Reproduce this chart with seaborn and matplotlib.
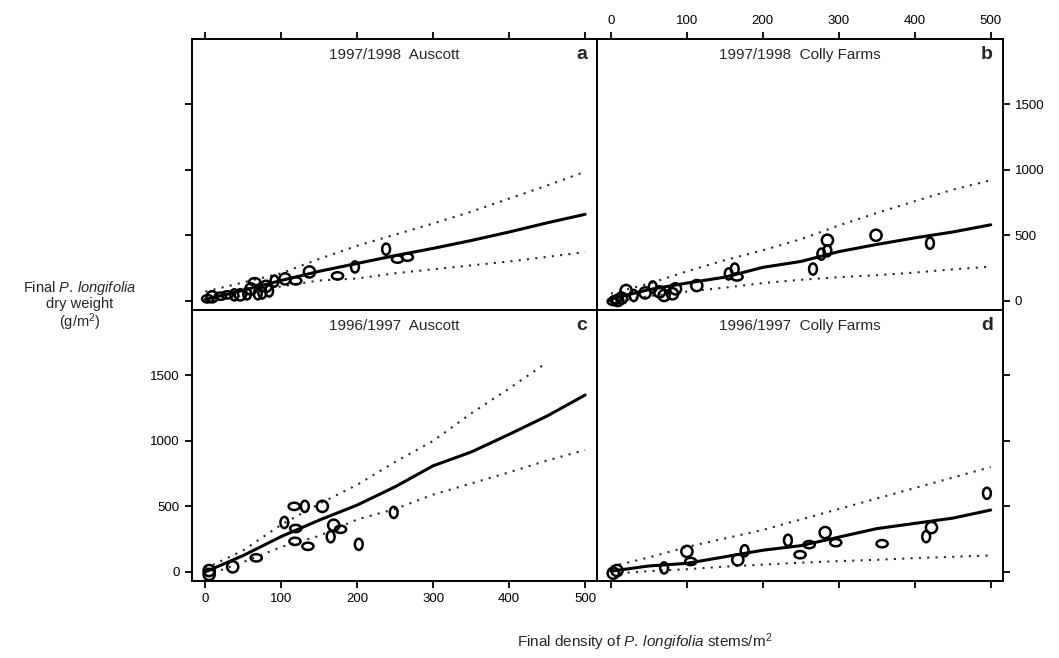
import matplotlib
matplotlib.use("Agg")
import pandas as pd
import matplotlib.pyplot as plt
import seaborn as sns
from matplotlib.path import Path
from matplotlib.transforms import Affine2D

# =========================
# Data
# =========================
panel_titles = ["1997/1998  Auscott", "1997/1998  Colly Farms",
                "1996/1997  Auscott", "1996/1997  Colly Farms"]
panel_letters = ["a", "b", "c", "d"]

x_ticks = [0, 100, 200, 300, 400, 500]
y_ticks = [0, 500, 1000, 1500]

# observed points (density, dry weight) and ellipse shape
a_x = [3, 9, 20, 29, 38, 46, 55, 60, 65, 69, 75, 80, 84, 91, 105, 119, 137, 174, 197, 238, 253, 266]
a_y = [15, 30, 35, 45, 45, 45, 53, 90, 145, 53, 60, 110, 75, 150, 167, 152, 220, 190, 258, 394, 318, 333]
a_shape = ["wide", "round", "wide", "wide", "tall", "round", "tall", "round", "wide", "tall", "tall",
           "round", "tall", "tall", "round", "wide", "round", "wide", "tall", "tall", "wide", "wide"]

b_x = [3, 6, 9, 14, 20, 30, 45, 55, 64, 70, 81, 85, 113, 155, 163, 166, 266, 277, 285, 285, 349, 420]
b_y = [-5, 10, 2, 20, 78, 40, 60, 105, 68, 40, 53, 91, 116, 205, 242, 182, 242, 356, 381, 462, 500, 439]
b_shape = ["wide", "wide", "round", "round", "round", "tall", "round", "tall", "round", "round", "round",
           "round", "round", "tall", "tall", "wide", "tall", "tall", "tall", "round", "round", "tall"]

c_x = [5, 5, 36, 67, 104, 117, 131, 154, 119, 118, 135, 169, 178, 165, 202, 248]
c_y = [10, -20, 38, 107, 377, 500, 500, 500, 331, 233, 195, 356, 325, 268, 210, 454]
c_shape = ["round", "round", "round", "wide", "tall", "wide", "tall", "round", "wide", "wide", "wide",
           "round", "wide", "tall", "tall", "tall"]

d_x = [3, 8, 70, 100, 105, 167, 176, 233, 249, 261, 282, 296, 357, 415, 422, 495]
d_y = [-10, 10, 30, 156, 79, 92, 161, 241, 131, 208, 300, 223, 215, 269, 338, 600]
d_shape = ["round", "round", "tall", "round", "wide", "round", "tall", "tall", "wide", "wide", "round",
           "wide", "wide", "tall", "round", "tall"]

# fitted curve and confidence bands
fit_x = [0, 50, 100, 150, 200, 250, 300, 350, 400, 450, 500]

a_fit = [10, 80, 155, 225, 285, 345, 400, 460, 525, 595, 660]
a_upper = [70, 140, 210, 320, 420, 505, 590, 680, 780, 880, 985]
a_lower = [-15, 40, 110, 155, 170, 210, 240, 270, 300, 335, 371]

b_fit = [15, 85, 135, 180, 255, 300, 375, 430, 480, 525, 580]
b_upper = [55, 130, 225, 310, 385, 470, 575, 670, 760, 848, 920]
b_lower = [-15, 35, 70, 100, 135, 160, 180, 195, 215, 240, 260]

c_fit = [0, 125, 270, 395, 510, 650, 810, 915, 1050, 1190, 1350]
c_upper = [25, 165, 360, 520, 665, 840, 1000, 1210, 1400, 1600, 1600]
c_lower = [-30, 75, 190, 275, 400, 480, 590, 675, 760, 850, 930]
c_upper_end = 450

d_fit = [5, 45, 65, 115, 165, 200, 265, 330, 370, 410, 472]
d_upper = [40, 110, 190, 255, 320, 400, 480, 560, 640, 720, 800]
d_lower = [-15, 5, 20, 40, 55, 70, 82, 92, 105, 115, 125]

# =========================
# Style
# =========================
sns.set_style("ticks")
plt.rcParams["font.family"] = ["Liberation Sans", "DejaVu Sans"]
plt.rcParams["mathtext.fontset"] = "custom"
plt.rcParams["mathtext.rm"] = "Liberation Sans"
plt.rcParams["mathtext.it"] = "Liberation Sans:italic"

tall = Path.unit_circle().transformed(Affine2D().scale(0.7, 1.0))
wide = Path.unit_circle().transformed(Affine2D().scale(1.0, 0.65))
marker_map = {"tall": tall, "wide": wide, "round": "o"}

fig, axes = plt.subplots(2, 2, figsize=(10.59, 6.58), dpi=100, sharex=True, sharey=True)
fig.subplots_adjust(left=0.181, right=0.947, bottom=0.117, top=0.941, wspace=0, hspace=0)

panels = [
    (a_x, a_y, a_shape, a_fit, a_upper, a_lower),
    (b_x, b_y, b_shape, b_fit, b_upper, b_lower),
    (c_x, c_y, c_shape, c_fit, c_upper, c_lower),
    (d_x, d_y, d_shape, d_fit, d_upper, d_lower),
]

for i, (ax, (px, py, shp, fit, up, lo)) in enumerate(zip(axes.flat, panels)):
    pts = pd.DataFrame({"x": px, "y": py, "shape": shp})
    sns.scatterplot(data=pts, x="x", y="y", style="shape", markers=marker_map,
                    color="black", facecolors="none", edgecolor="black",
                    linewidth=1.8, s=65, legend=False, ax=ax, zorder=3)

    fx = fit_x
    if i == 2:
        fx_up = [v for v in fit_x if v <= c_upper_end]
        up = up[:len(fx_up)]
    else:
        fx_up = fit_x
    sns.lineplot(x=fx, y=fit, color="black", linewidth=2.2, ax=ax,
                 estimator=None, sort=False)
    sns.lineplot(x=fx_up, y=up, color="0.15", linewidth=1.5, ax=ax,
                 linestyle=(0, (1, 3)), estimator=None, sort=False)
    sns.lineplot(x=fx, y=lo, color="0.15", linewidth=1.5, ax=ax,
                 linestyle=(0, (1, 3)), estimator=None, sort=False)

    ax.set_xlim(-18, 516)
    ax.set_ylim(-70, 2000)
    ax.set_xlabel("")
    ax.set_ylabel("")
    ax.set_xticks(x_ticks)
    ax.set_yticks(y_ticks)
    for sp in ax.spines.values():
        sp.set_linewidth(1.4)
        sp.set_color("black")

    ax.text(0.5, 0.965, panel_titles[i], transform=ax.transAxes,
            ha="center", va="top", fontsize=11)
    ax.text(0.975, 0.975, panel_letters[i], transform=ax.transAxes,
            ha="right", va="top", fontsize=14, fontweight="bold")

tick_kw = dict(direction="out", length=5, width=1.3, labelsize=9.5, colors="black")

ax_a, ax_b, ax_c, ax_d = axes.flat
ax_a.tick_params(axis="x", bottom=False, top=True, labelbottom=False, labeltop=False, **tick_kw)
ax_a.tick_params(axis="y", left=True, right=False, labelleft=False, labelright=False, **tick_kw)
ax_b.tick_params(axis="x", bottom=False, top=True, labelbottom=False, labeltop=True, **tick_kw)
ax_b.tick_params(axis="y", left=False, right=True, labelleft=False, labelright=True, **tick_kw)
ax_c.tick_params(axis="x", bottom=True, top=False, labelbottom=True, labeltop=False, **tick_kw)
ax_c.tick_params(axis="y", left=True, right=False, labelleft=True, labelright=False, **tick_kw)
ax_d.tick_params(axis="x", bottom=True, top=False, labelbottom=False, labeltop=False, **tick_kw)
ax_d.tick_params(axis="y", left=False, right=True, labelleft=False, labelright=False, **tick_kw)

fig.text(80 / 1059, 1 - 306 / 658,
         "Final $\\mathit{P.\\,longifolia}$\ndry weight\n(g/m$^2$)",
         ha="center", va="center", fontsize=10.5, linespacing=1.05)
fig.text(645 / 1059, 1 - 642 / 658,
         "Final density of $\\mathit{P.\\,longifolia}$ stems/m$^2$",
         ha="center", va="center", fontsize=11)

fig.savefig("out.png", dpi=100)
